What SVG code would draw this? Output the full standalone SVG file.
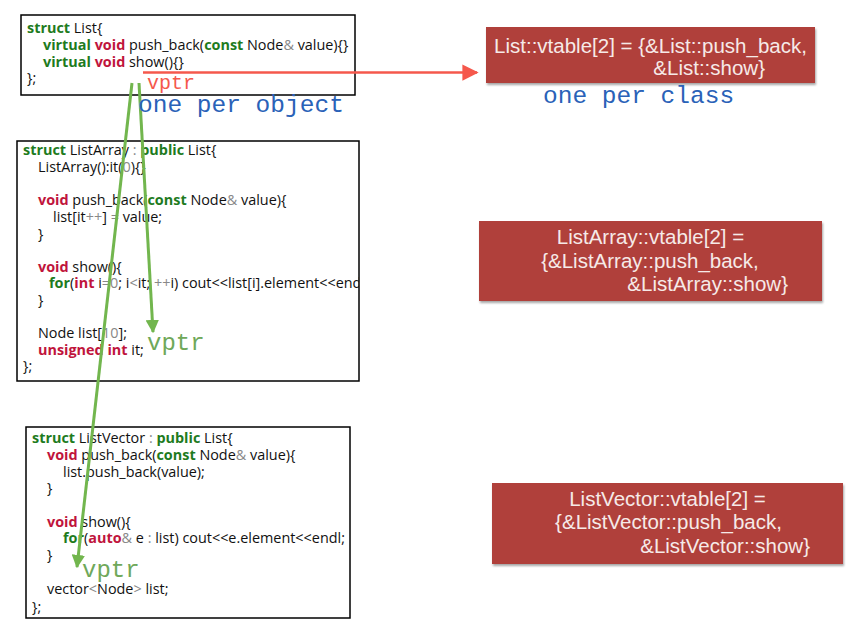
<svg xmlns="http://www.w3.org/2000/svg" width="850" height="625" viewBox="0 0 850 625">
<style>
.box{fill:#fff;stroke:#000;stroke-width:1.5}
.code{font-family:"Open Sans","Liberation Sans",sans-serif;font-size:14.4px;fill:#111}
.k{fill:#1e7b1e;font-weight:bold}
.t{fill:#c0143c;font-weight:bold}
.g{fill:#888}
.vt{fill:#b0413a}
.vtx{font-family:"Liberation Sans",Arial,sans-serif;font-size:20.5px;fill:#f6eae8}
.mono{font-family:"Liberation Mono","Courier New",monospace}
.blue{fill:#2a62b8;font-size:24.5px}
.green{stroke:#72b64e;stroke-width:3;fill:none}
.red{stroke:#f5584c;stroke-width:2.5;fill:none}
</style>
<defs>
<marker id="ag" viewBox="0 0 10 10" refX="9" refY="5" markerWidth="4.5" markerHeight="4.5" orient="auto" markerUnits="strokeWidth"><path d="M0,0L10,5L0,10z" fill="#72b64e"/></marker>
<marker id="ar" viewBox="0 0 10 10" refX="9" refY="5" markerWidth="6.5" markerHeight="6.5" orient="auto" markerUnits="strokeWidth"><path d="M0,0L10,5L0,10z" fill="#f5584c"/></marker>
<clipPath id="c2"><rect x="17" y="141" width="342" height="240"/></clipPath>
<filter id="sh" x="-5%" y="-5%" width="110%" height="120%"><feDropShadow dx="1" dy="2" stdDeviation="1.2" flood-color="#000" flood-opacity="0.35"/></filter>
</defs>

<g id="list">
<rect class="box" x="21" y="15" width="334" height="80"/>
<text class="code" x="27" y="33"><tspan class="k">struct</tspan> List{</text>
<text class="code" x="43" y="50"><tspan class="k">virtual</tspan> <tspan class="t">void</tspan> push_back(<tspan class="k">const</tspan> Node<tspan class="g">&amp;</tspan> value){}</text>
<text class="code" x="43" y="67"><tspan class="k">virtual</tspan> <tspan class="t">void</tspan> show(){}</text>
<text class="code" x="27" y="83">};</text>
</g>

<g id="listarray">
<rect class="box" x="17" y="141" width="342" height="240"/>
<g clip-path="url(#c2)">
<text class="code" x="23" y="155"><tspan class="k">struct</tspan> ListArray <tspan class="g">:</tspan> <tspan class="k">public</tspan> List{</text>
<text class="code" x="38" y="172">ListArray():it(<tspan class="g">0</tspan>){}</text>
<text class="code" x="38" y="205"><tspan class="t">void</tspan> push_back(<tspan class="k">const</tspan> Node<tspan class="g">&amp;</tspan> value){</text>
<text class="code" x="53" y="222">list[it<tspan class="g">++</tspan>] <tspan class="g">=</tspan> value;</text>
<text class="code" x="38" y="239">}</text>
<text class="code" x="38" y="272"><tspan class="t">void</tspan> show(){</text>
<text class="code" x="49" y="288"><tspan class="k">for</tspan>(<tspan class="t">int</tspan> i<tspan class="g">=0</tspan>; i<tspan class="g">&lt;</tspan>it; <tspan class="g">++</tspan>i) cout&lt;&lt;list[i].element&lt;&lt;endl;</text>
<text class="code" x="38" y="305">}</text>
<text class="code" x="38" y="338">Node list[<tspan class="g">10</tspan>];</text>
<text class="code" x="38" y="355"><tspan class="t">unsigned</tspan> <tspan class="t">int</tspan> it;</text>
<text class="code" x="23" y="371">};</text>
</g>
</g>

<g id="listvector">
<rect class="box" x="26" y="427" width="324" height="191"/>
<text class="code" x="32" y="443"><tspan class="k">struct</tspan> ListVector <tspan class="g">:</tspan> <tspan class="k">public</tspan> List{</text>
<text class="code" x="47" y="460"><tspan class="t">void</tspan> push_back(<tspan class="k">const</tspan> Node<tspan class="g">&amp;</tspan> value){</text>
<text class="code" x="63" y="477">list.push_back(value);</text>
<text class="code" x="47" y="493">}</text>
<text class="code" x="47" y="527"><tspan class="t">void</tspan> show(){</text>
<text class="code" x="63" y="543"><tspan class="k">for</tspan>(<tspan class="t">auto</tspan><tspan class="g">&amp;</tspan> e <tspan class="g">:</tspan> list) cout&lt;&lt;e.element&lt;&lt;endl;</text>
<text class="code" x="47" y="560">}</text>
<text class="code" x="47" y="594">vector<tspan class="g">&lt;</tspan>Node<tspan class="g">&gt;</tspan> list;</text>
<text class="code" x="32" y="612">};</text>
</g>

<g id="vt-list">
<rect class="vt" x="486" y="27" width="329" height="56" filter="url(#sh)"/>
<text class="vtx" x="650.5" y="53" text-anchor="middle">List::vtable[2] = {&amp;List::push_back,</text>
<text class="vtx" x="765" y="75" text-anchor="end">&amp;List::show}</text>
</g>

<g id="vt-listarray">
<rect class="vt" x="479" y="221" width="343" height="80" filter="url(#sh)"/>
<text class="vtx" x="650.5" y="244" text-anchor="middle">ListArray::vtable[2] =</text>
<text class="vtx" x="650" y="268" text-anchor="middle">{&amp;ListArray::push_back,</text>
<text class="vtx" x="788" y="291" text-anchor="end">&amp;ListArray::show}</text>
</g>

<g id="vt-listvector">
<rect class="vt" x="492" y="483" width="351" height="81" filter="url(#sh)"/>
<text class="vtx" x="667.5" y="506" text-anchor="middle">ListVector::vtable[2] =</text>
<text class="vtx" x="668.5" y="529" text-anchor="middle">{&amp;ListVector::push_back,</text>
<text class="vtx" x="810" y="553" text-anchor="end">&amp;ListVector::show}</text>
</g>

<g id="connectors">
<line class="red" x1="143" y1="72.5" x2="477" y2="72.5" marker-end="url(#ar)"/>
<line class="green" x1="139" y1="83" x2="153" y2="332" marker-end="url(#ag)"/>
<line class="green" x1="132" y1="83" x2="77" y2="567" marker-end="url(#ag)"/>
</g>

<g id="labels">
<text class="mono" x="147" y="89" font-size="20" fill="#f5584c">vptr</text>
<text class="mono blue" x="138" y="112">one per object</text>
<text class="mono blue" x="543" y="103">one per class</text>
<text class="mono" x="147" y="350" font-size="24" fill="#6fa85a">vptr</text>
<text class="mono" x="82" y="577" font-size="24" fill="#6fa85a">vptr</text>
</g>
</svg>
